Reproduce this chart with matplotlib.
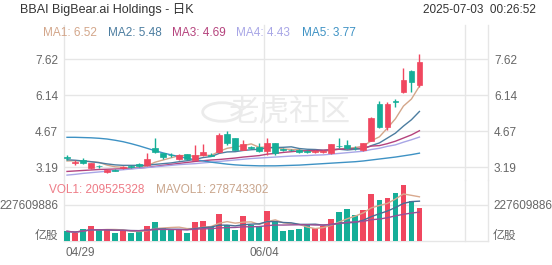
import matplotlib
matplotlib.use('Agg')
import matplotlib.pyplot as plt
import numpy as np
import pandas as pd
from matplotlib.patches import Rectangle

plt.rcParams['font.family'] = ['Liberation Sans', 'Noto Sans CJK SC', 'DejaVu Sans']

# ---------------- data ----------------
dates = ['04/29', '04/30', '05/01', '05/02', '05/05', '05/06', '05/07', '05/08', '05/09',
         '05/12', '05/13', '05/14', '05/15', '05/16', '05/19', '05/20', '05/21', '05/22',
         '05/23', '05/27', '05/28', '05/29', '05/30', '06/02', '06/03', '06/04', '06/05',
         '06/06', '06/09', '06/10', '06/11', '06/12', '06/13', '06/16', '06/17', '06/18',
         '06/20', '06/23', '06/24', '06/25', '06/26', '06/27', '06/30', '07/01', '07/02']
opens = [3.61, 3.38, 3.49, 3.16, 3.25, 2.98, 3.08, 3.15, 3.24, 3.33, 3.28, 3.98, 3.76, 3.71, 3.52,
         3.72, 3.50, 3.70, 3.68, 3.80, 4.57, 4.38, 3.92, 4.03, 4.03, 3.85, 4.17, 3.93, 3.91, 3.90,
         3.85, 3.80, 3.82, 3.77, 4.07, 4.10, 4.00, 3.90, 4.28, 5.80, 4.86, 5.89, 6.29, 7.15, 6.55]
highs = [3.68, 3.48, 3.56, 3.38, 3.30, 3.12, 3.12, 3.25, 3.28, 3.36, 3.78, 4.38, 3.78, 3.76, 3.72,
         3.75, 4.10, 4.13, 3.76, 4.58, 4.69, 4.40, 4.31, 4.08, 4.17, 4.38, 4.20, 3.98, 3.95, 3.93,
         3.88, 3.88, 3.90, 4.15, 4.38, 4.31, 4.05, 4.20, 5.25, 5.90, 5.88, 5.98, 7.25, 7.18, 7.83]
lows = [3.50, 3.30, 3.33, 3.10, 3.15, 2.95, 3.02, 3.12, 3.16, 3.20, 3.25, 3.78, 3.55, 3.62, 3.50,
        3.50, 3.47, 3.66, 3.64, 3.78, 4.12, 3.88, 3.88, 3.95, 3.80, 3.70, 3.69, 3.85, 3.84, 3.76,
        3.78, 3.76, 3.78, 3.74, 4.00, 3.94, 3.90, 3.86, 4.25, 4.80, 4.72, 5.67, 6.22, 6.29, 6.50]
closes = [3.59, 3.40, 3.36, 3.35, 3.23, 3.08, 3.05, 3.22, 3.21, 3.25, 3.52, 3.82, 3.63, 3.69, 3.69,
          3.53, 3.68, 3.83, 3.66, 4.50, 4.17, 3.92, 4.15, 3.99, 3.84, 4.20, 3.77, 3.91, 3.89, 3.80,
          3.82, 3.84, 3.85, 4.13, 4.05, 3.98, 3.98, 4.17, 5.20, 4.86, 5.80, 5.87, 6.77, 6.67, 7.52]
# volume, millions of shares
volumes_m = [62, 52, 78, 93, 72, 72, 52, 66, 52, 62, 97, 120, 83, 68, 72, 52, 120, 124, 93, 172,
             103, 72, 155, 102, 93, 190, 128, 62, 72, 76, 103, 83, 93, 141, 182, 203, 166, 193,
             296, 255, 269, 300, 352, 253, 209.525328]

ma1 = [3.45, 3.46, 3.45, 3.42, 3.39, 3.28, 3.21, 3.19, 3.16, 3.16, 3.25, 3.40, 3.49, 3.58, 3.67,
       3.67, 3.64, 3.68, 3.68, 3.84, 3.97, 4.02, 4.08, 4.15, 4.01, 4.02, 3.99, 3.94, 3.92, 3.91,
       3.84, 3.85, 3.84, 3.89, 3.94, 3.97, 4.00, 4.06, 4.28, 4.44, 4.80, 5.18, 5.70, 5.99, 6.52]
ma2 = [3.50, 3.48, 3.45, 3.42, 3.38, 3.33, 3.29, 3.27, 3.27, 3.27, 3.27, 3.31, 3.34, 3.37, 3.42,
       3.46, 3.52, 3.59, 3.63, 3.76, 3.82, 3.83, 3.88, 3.91, 3.93, 3.99, 4.00, 4.01, 4.03, 3.96,
       3.93, 3.92, 3.89, 3.91, 3.93, 3.90, 3.93, 3.95, 4.08, 4.19, 4.39, 4.59, 4.88, 5.14, 5.48]
ma3 = [3.02, 3.04, 3.06, 3.08, 3.10, 3.11, 3.12, 3.13, 3.14, 3.16, 3.19, 3.23, 3.27, 3.31, 3.35,
       3.39, 3.43, 3.46, 3.49, 3.51, 3.54, 3.57, 3.61, 3.64, 3.67, 3.73, 3.76, 3.80, 3.83, 3.86,
       3.87, 3.88, 3.89, 3.91, 3.93, 3.95, 3.96, 3.98, 4.06, 4.08, 4.16, 4.26, 4.39, 4.52, 4.69]
ma4 = [2.87, 2.90, 2.94, 2.97, 3.00, 3.03, 3.06, 3.09, 3.12, 3.15, 3.18, 3.21, 3.24, 3.27, 3.30,
       3.32, 3.34, 3.37, 3.40, 3.43, 3.46, 3.49, 3.52, 3.55, 3.57, 3.59, 3.61, 3.63, 3.65, 3.66,
       3.67, 3.69, 3.70, 3.73, 3.76, 3.79, 3.82, 3.85, 3.92, 3.97, 4.05, 4.11, 4.22, 4.32, 4.43]
ma5 = [4.42, 4.42, 4.41, 4.40, 4.38, 4.35, 4.30, 4.24, 4.16, 4.07, 3.97, 3.87, 3.78, 3.70, 3.63,
       3.56, 3.50, 3.45, 3.40, 3.36, 3.32, 3.29, 3.27, 3.26, 3.25, 3.25, 3.25, 3.26, 3.27, 3.28,
       3.30, 3.32, 3.34, 3.36, 3.38, 3.40, 3.42, 3.45, 3.49, 3.53, 3.57, 3.61, 3.66, 3.71, 3.77]

price_ticks = [3.19, 4.67, 6.14, 7.62]
vol_tick = 227609886
date_ticks = ['04/29', '06/04']
title = 'BBAI BigBear.ai Holdings - 日K'
stamp = '2025-07-03  00:26:52'

# ---------------- style ----------------
UP = '#F0475F'
DOWN = '#15AE98'
GRID = '#E6E6E6'
TXT = '#666666'
MA_COLORS = ['#D3A68A', '#4C7DA0', '#B5437D', '#A8A6E6', '#3E92C4']
VMA_COLORS = ['#D9A98E', '#4B6E96', '#9B4F96']

W, H = 552, 265
fig = plt.figure(figsize=(W / 100, H / 100), dpi=100)
fig.patch.set_facecolor('white')


def fx(px):
    return px / W


def fy(py):
    return 1 - py / H


L, R = 64, 488
ax = fig.add_axes([fx(L), fy(180), fx(R) - fx(L), fy(25) - fy(180)])
axv = fig.add_axes([fx(L), fy(241.3), fx(R) - fx(L), fy(180) - fy(241.3)])

n = len(dates)
x = np.arange(n)
slot = 8.01
xl = (L - 67) / slot
xr = (R - 67) / slot

# price scale: 7.62 -> y 59.3 px, 3.19 -> y 167.3 px
ppu = (167.3 - 59.3) / (7.62 - 3.19)
ytop = 7.62 + (59.3 - 25) / ppu
ybot = 3.19 - (180 - 167.3) / ppu
ax.set_ylim(ybot, ytop)
ax.set_xlim(xl, xr)

vpp = vol_tick / (241.3 - 204.7)
axv.set_ylim(0, (241.3 - 180) * vpp)
axv.set_xlim(xl, xr)

for a in (ax, axv):
    for s in a.spines.values():
        s.set_visible(False)
    a.set_xticks([])
    a.set_yticks([])
    a.patch.set_alpha(0)

for t in price_ticks:
    ax.axhline(t, color=GRID, lw=1.0, zorder=0)
axv.axhline(vol_tick, color=GRID, lw=1.0, zorder=0)
axv.axhline(0, color=GRID, lw=1.0, zorder=0, clip_on=False)

vgrid = [xl, xl + 25, xl + 50, xr]
for a in (ax, axv):
    for v in vgrid:
        a.axvline(v, color=GRID, lw=1.0, zorder=0, clip_on=False)

# watermark
fig.text(fx(290), fy(113), '老虎社区', fontsize=22, color='#EBEBEB', ha='center', va='center',
         family=['Noto Sans CJK SC'], style='italic', zorder=0)
circ = plt.Circle((fx(222), fy(112)), 0.035, transform=fig.transFigure, fill=False,
                  ec='#EBEBEB', lw=2, zorder=0)
fig.add_artist(circ)

# candles
bw = 0.72
for i in x:
    o, h, l, c = opens[i], highs[i], lows[i], closes[i]
    col = UP if c >= o else DOWN
    ax.plot([i, i], [l, h], color=col, lw=1.0, zorder=3, solid_capstyle='butt')
    lo = min(o, c)
    hgt = max(abs(c - o), 0.02)
    ax.add_patch(Rectangle((i - bw / 2, lo), bw, hgt, facecolor=col, edgecolor=col,
                           lw=0.5, zorder=4))

# MA lines
for arr, colr in zip([ma1, ma2, ma3, ma4, ma5], MA_COLORS):
    ax.plot(x, arr, color=colr, lw=1.0, zorder=2)

# volume
vols = np.array(volumes_m) * 1e6
vcols = [UP if closes[i] >= opens[i] else DOWN for i in x]
axv.bar(x, vols, width=bw, color=vcols, zorder=2)
vs = pd.Series(vols)
for win, colr in zip([5, 10, 20], VMA_COLORS):
    axv.plot(x, vs.rolling(win, min_periods=1).mean(), color=colr, lw=1.0, zorder=3)

# texts
fs = 8.5
fig.text(fx(20), fy(10), title, fontsize=9, color='#333333', ha='left', va='center')
fig.text(fx(536), fy(10), stamp, fontsize=8.5, color='#333333', ha='right', va='center')

ma_labels = [('MA1', ma1[-1], 43), ('MA2', ma2[-1], 108), ('MA3', ma3[-1], 172),
             ('MA4', ma4[-1], 236), ('MA5', ma5[-1], 302)]
for (lab, val, px), colr in zip(ma_labels, MA_COLORS):
    fig.text(fx(px), fy(33), f'{lab}: {val:.2f}', fontsize=fs, color=colr, ha='left', va='center')

fig.text(fx(49), fy(190), f'VOL1: {int(round(volumes_m[-1] * 1e6))}', fontsize=fs,
         color='#EE7B86', ha='left', va='center')
fig.text(fx(156), fy(190), 'MAVOL1: 278743302', fontsize=fs, color='#C9A58C',
         ha='left', va='center')

for t in price_ticks:
    ypx = 167.3 - (t - 3.19) * ppu
    fig.text(fx(58), fy(ypx + 1.5), f'{t:.2f}', fontsize=fs, color=TXT, ha='right', va='center')
    fig.text(fx(494), fy(ypx + 1.5), f'{t:.2f}', fontsize=fs, color=TXT, ha='left', va='center')

fig.text(fx(58), fy(206), str(vol_tick), fontsize=fs, color=TXT, ha='right', va='center')
fig.text(fx(493), fy(206), str(vol_tick), fontsize=fs, color=TXT, ha='left', va='center')
fig.text(fx(58), fy(236), '亿股', fontsize=fs, color=TXT, ha='right', va='center')
fig.text(fx(493), fy(236), '亿股', fontsize=fs, color=TXT, ha='left', va='center')

for d in date_ticks:
    i = dates.index(d)
    if i == 0:
        fig.text(fx(L + 1), fy(253), d, fontsize=fs, color=TXT, ha='left', va='center')
    else:
        fig.text(fx(67 + slot * i - 3), fy(253), d, fontsize=fs, color=TXT, ha='center', va='center')

fig.savefig('out.png', dpi=100, facecolor='white')
